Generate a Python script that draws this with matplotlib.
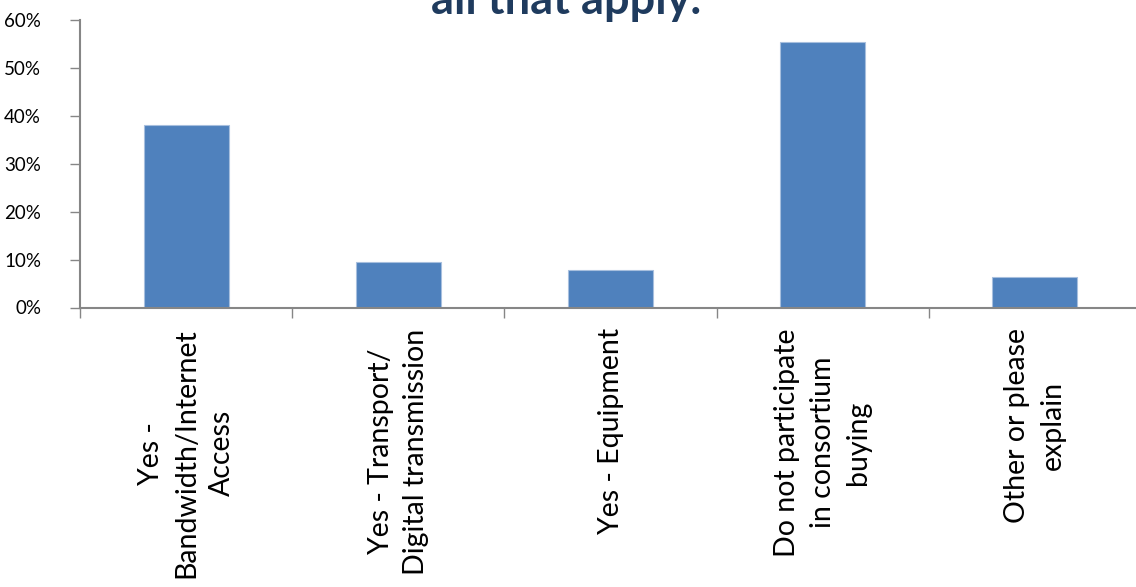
import numpy as np
import matplotlib.pyplot as plt
from matplotlib.ticker import PercentFormatter

categories = [
    "Yes -\nBandwidth/Internet\nAccess",
    "Yes - Transport/\nDigital transmission",
    "Yes - Equipment",
    "Do not participate\nin consortium\nbuying",
    "Other or please\nexplain",
]
values = [38.1, 9.5, 7.8, 55.5, 6.3]
y_ticks = [0, 10, 20, 30, 40, 50, 60]

plt.rcParams['font.family'] = ['Lato', 'DejaVu Sans']

fig = plt.figure(figsize=(11.36, 5.87), dpi=100)
ax = fig.add_axes([80 / 1136, 1 - 307.5 / 587, (1141 - 80) / 1136, 287.5 / 587])

x = np.arange(len(categories))
ax.bar(x, values, width=0.4, color='#4F81BD', edgecolor='#A7BFDE', linewidth=0.8, zorder=2)

ax.set_xlim(-0.5, len(categories) - 0.5)
ax.set_ylim(0, 60)
ax.set_yticks(y_ticks)
ax.yaxis.set_major_formatter(PercentFormatter(decimals=0))

ax.set_xticks(x)
ax.set_xticklabels(categories, rotation=90, ha='center', va='top',
                   multialignment='center', fontsize=20.5, linespacing=1.45)
ax.set_xticks(np.arange(len(categories) + 1) - 0.5, minor=True)

ax.tick_params(axis='x', which='major', length=0, pad=15)
ax.tick_params(axis='x', which='minor', length=7, width=1, color='#868686', direction='out')
ax.tick_params(axis='y', length=7, width=1, color='#868686', direction='out', labelsize=13.5, pad=21)

for side in ['top', 'right']:
    ax.spines[side].set_visible(False)
for side in ['left', 'bottom']:
    ax.spines[side].set_color('#868686')
    ax.spines[side].set_linewidth(1.5)

# title is cut off at the top edge in the reference; only its last line shows
fig.text(566 / 1136, 1 - 14 / 587, "all that apply.", ha='center', va='baseline',
         fontsize=32.5, fontweight='bold', color='#1F3B5E')

fig.savefig('out.png', dpi=100)
